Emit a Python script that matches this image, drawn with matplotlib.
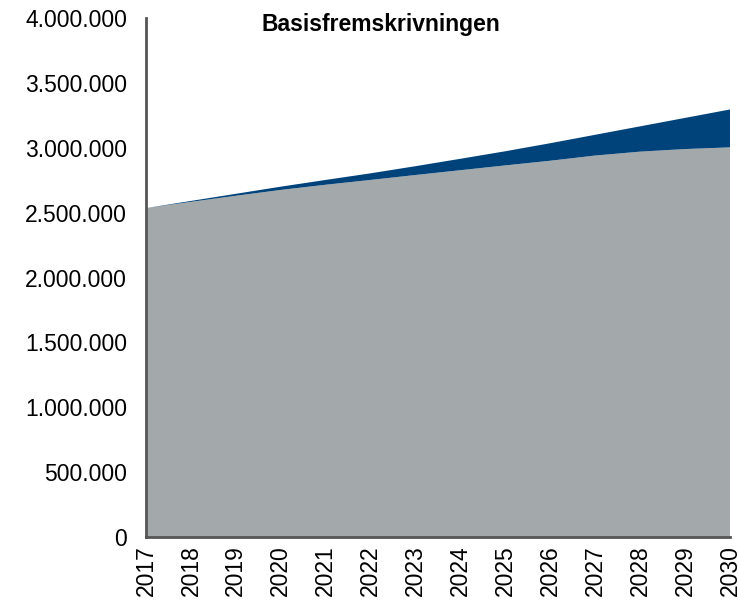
import matplotlib
matplotlib.use("Agg")
import matplotlib.pyplot as plt
from matplotlib.ticker import FuncFormatter

years = list(range(2017, 2031))
basis = [2535000, 2583000, 2630000, 2675000, 2715000, 2752000, 2790000,
         2827000, 2864000, 2900000, 2940000, 2970000, 2990000, 3003000]
total = [2535000, 2590000, 2645000, 2700000, 2752000, 2803000, 2858000,
         2915000, 2973000, 3035000, 3100000, 3165000, 3230000, 3295000]
extra = [t - b for t, b in zip(total, basis)]
title = "Basisfremskrivningen"
yticks = [0, 500000, 1000000, 1500000, 2000000, 2500000, 3000000, 3500000, 4000000]

plt.rcParams['font.family'] = ['Liberation Sans', 'DejaVu Sans']

fig = plt.figure(figsize=(7.38, 6.04), dpi=100)
ax = fig.add_axes([146/738, 1 - 537/604, (730 - 146)/738, (537 - 18)/604])

ax.stackplot(years, basis, extra, colors=['#A3A9AA', '#00427A'], linewidth=0)

ax.set_xlim(years[0], years[-1])
ax.set_ylim(0, 4000000)
ax.set_yticks(yticks)
ax.yaxis.set_major_formatter(FuncFormatter(lambda v, p: f"{int(v):,}".replace(",", ".")))
ax.set_xticks(years)
ax.set_xticklabels([str(y) for y in years], rotation=90)
ax.tick_params(axis='both', length=0, labelsize=16.5)
ax.tick_params(axis='y', pad=13.5)
ax.tick_params(axis='x', pad=6)

for s in ['top', 'right']:
    ax.spines[s].set_visible(False)
for s in ['left', 'bottom']:
    ax.spines[s].set_color('#555555')
    ax.spines[s].set_linewidth(2)

fig.text(381/738, 1 - 24/604, title, ha='center', va='center', fontsize=16.5, fontweight='bold')

fig.savefig("out.png", dpi=100)
